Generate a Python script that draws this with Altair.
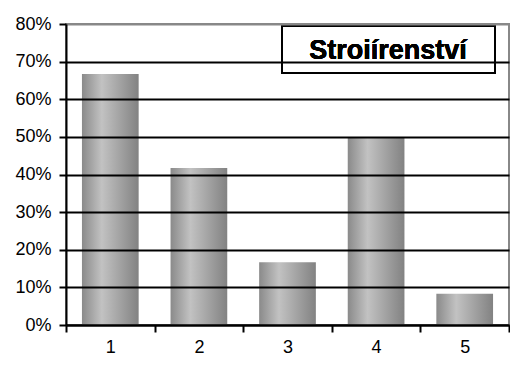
import altair as alt
import pandas as pd

categories = ["1", "2", "3", "4", "5"]
values = [0.667, 0.417, 0.167, 0.50, 0.083]
y_ticks = [0, 0.1, 0.2, 0.3, 0.4, 0.5, 0.6, 0.7, 0.8]
title_text = "Stroiírenství"

df = pd.DataFrame({"cat": categories, "val": values})

grad = alt.Gradient(
    gradient="linear",
    stops=[
        alt.GradientStop(color="#8a8a8a", offset=0),
        alt.GradientStop(color="#c2c2c2", offset=0.35),
        alt.GradientStop(color="#828282", offset=1),
    ],
    x1=0, x2=1, y1=0, y2=0,
)

bars = alt.Chart(df).mark_bar(color=grad, width=alt.RelativeBandSize(0.64)).encode(
    x=alt.X(
        "cat:N",
        sort=categories,
        scale=alt.Scale(paddingInner=0, paddingOuter=0),
        axis=alt.Axis(
            title=None, labelAngle=0, tickBand="extent", tickSize=7, tickWidth=2,
            tickColor="black", domainColor="black", domainWidth=2,
            labelFont="Liberation Sans", labelFontSize=18, labelColor="black",
            labelPadding=6, grid=False, zindex=1,
        ),
    ),
    y=alt.Y(
        "val:Q",
        scale=alt.Scale(domain=[0, 0.8], nice=False),
        axis=alt.Axis(
            title=None, values=y_ticks, format=".0%", tickSize=7, tickWidth=2,
            tickColor="black", domainColor="black", domainWidth=2,
            labelFont="Liberation Sans", labelFontSize=18, labelColor="black",
            labelPadding=8, grid=True, gridWidth=2,
            gridColor=alt.condition("datum.value >= 0.8", alt.value("#888888"), alt.value("black")),
            zindex=1,
        ),
    ),
)

box = alt.Chart(df).mark_rect(fill="white", stroke="black", strokeWidth=2).encode(
    x=alt.value(216), x2=alt.value(429), y=alt.value(2), y2=alt.value(49)
)

label = alt.Chart(df).mark_text(
    text=title_text, font="Liberation Sans", fontWeight="bold", fontSize=27,
    color="black", align="center", baseline="middle",
).encode(x=alt.value(322), y=alt.value(27))

chart = alt.layer(bars, box, label).properties(
    width=443, height=301,
    autosize=alt.AutoSizeParams(type="none"),
    padding={"left": 58, "top": 16, "right": 1, "bottom": 30},
).configure_view(stroke="#888888", strokeWidth=2)

chart.save("out.html", embed_options={"renderer": "svg", "actions": False})
